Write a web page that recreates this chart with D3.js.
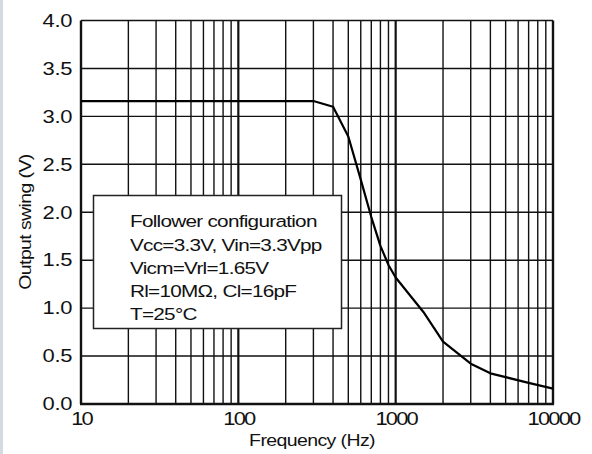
<!DOCTYPE html>
<html>
<head>
<meta charset="utf-8">
<script src="https://cdn.jsdelivr.net/npm/d3@7"></script>
<style>
  body { margin: 0; background: #fff; }
  svg { display: block; font-family: Arial, "Liberation Sans", sans-serif; }
</style>
</head>
<body>
<div id="chart"></div>
<script>
// Output swing vs frequency
const freq = [10, 300, 400, 500, 600, 700, 800, 900, 1000, 1500, 2000, 3000, 4000, 5000, 7000, 10000];
const swing = [3.16, 3.16, 3.10, 2.79, 2.34, 1.95, 1.65, 1.45, 1.32, 0.96, 0.65, 0.42, 0.32, 0.28, 0.22, 0.16];

const xTicks = [10, 100, 1000, 10000];
const xTickLabels = ["10", "100", "1000", "10000"];
const yTicks = [0, 0.5, 1.0, 1.5, 2.0, 2.5, 3.0, 3.5, 4.0];
const legendLines = [
  "Follower configuration",
  "Vcc=3.3V, Vin=3.3Vpp",
  "Vicm=Vrl=1.65V",
  "Rl=10M\u03A9, Cl=16pF",
  "T=25\u00B0C"
];

const width = 592, height = 454;
const margin = { top: 20.5, right: 39, bottom: 50, left: 81 };
const sx = 1.22; // the source font is drawn a bit wide

const svg = d3.select("#chart")
  .append("svg")
  .attr("width", width)
  .attr("height", height);

// thin grey strip at the left edge
svg.append("rect")
  .attr("x", 0).attr("y", 0)
  .attr("width", 3).attr("height", height)
  .attr("fill", "#d3dae2");

const x = d3.scaleLog().domain([10, 10000]).range([margin.left, width - margin.right]);
const y = d3.scaleLinear().domain([0, 4]).range([height - margin.bottom, margin.top]);

// minor + major vertical grid
const minor = [];
for (let dec = 10; dec < 10000; dec *= 10) {
  for (let k = 2; k <= 9; k++) minor.push(dec * k);
}
svg.append("g")
  .selectAll("line")
  .data(minor)
  .join("line")
  .attr("x1", d => x(d)).attr("x2", d => x(d))
  .attr("y1", y(0)).attr("y2", y(4))
  .attr("stroke", "#111")
  .attr("stroke-width", 1.4);

svg.append("g")
  .selectAll("line")
  .data([100, 1000])
  .join("line")
  .attr("x1", d => x(d)).attr("x2", d => x(d))
  .attr("y1", y(0)).attr("y2", y(4))
  .attr("stroke", "#111")
  .attr("stroke-width", 2.2);

// horizontal grid
svg.append("g")
  .selectAll("line")
  .data(yTicks)
  .join("line")
  .attr("x1", x(10)).attr("x2", x(10000))
  .attr("y1", d => y(d)).attr("y2", d => y(d))
  .attr("stroke", "#111")
  .attr("stroke-width", 1.4);

// frame
svg.append("line")
  .attr("x1", x(10)).attr("x2", x(10))
  .attr("y1", y(0)).attr("y2", y(4))
  .attr("stroke", "#111").attr("stroke-width", 2.4);
svg.append("line")
  .attr("x1", x(10000)).attr("x2", x(10000))
  .attr("y1", y(0)).attr("y2", y(4))
  .attr("stroke", "#111").attr("stroke-width", 2.4);
svg.append("line")
  .attr("x1", x(10) - 1).attr("x2", x(10000) + 1)
  .attr("y1", y(0)).attr("y2", y(0))
  .attr("stroke", "#111").attr("stroke-width", 2.4);

// legend box (sits over the grid)
const box = { x0: 93.5, y0: 195.5, x1: 341.5, y1: 328.5 };
svg.append("rect")
  .attr("x", box.x0).attr("y", box.y0)
  .attr("width", box.x1 - box.x0).attr("height", box.y1 - box.y0)
  .attr("fill", "#fff")
  .attr("stroke", "#222")
  .attr("stroke-width", 1.5);

svg.append("g")
  .attr("transform", `scale(${sx},1)`)
  .selectAll("text")
  .data(legendLines)
  .join("text")
  .attr("x", 130 / sx)
  .attr("y", (d, i) => 227.5 + i * 23.2)
  .style("font-size", "17px")
  .style("letter-spacing", "-0.6px")
  .attr("fill", "#111")
  .text(d => d);

// the curve
const line = d3.line()
  .x(d => x(d[0]))
  .y(d => y(d[1]));

svg.append("path")
  .datum(freq.map((f, i) => [f, swing[i]]))
  .attr("fill", "none")
  .attr("stroke", "#000")
  .attr("stroke-width", 2.2)
  .attr("stroke-linejoin", "round")
  .attr("d", line);

// axes (labels only, grid drawn above)
const xAxis = d3.axisBottom(x)
  .tickValues(xTicks)
  .tickFormat((d, i) => xTickLabels[i])
  .tickSize(0)
  .tickPadding(8);

const xg = svg.append("g")
  .attr("transform", `translate(0, ${y(0)})`)
  .call(xAxis);
xg.select(".domain").remove();
xg.selectAll(".tick text")
  .attr("transform", `scale(${sx},1)`)
  .style("font-size", "18px")
  .style("letter-spacing", "-1.5px")
  .style("font-family", "Arial, 'Liberation Sans', sans-serif")
  .attr("fill", "#111");

const yAxis = d3.axisLeft(y)
  .tickValues(yTicks)
  .tickFormat(d3.format(".1f"))
  .tickSize(0)
  .tickPadding(9);

const yg = svg.append("g")
  .attr("transform", `translate(${x(10)}, 0)`)
  .call(yAxis);
yg.select(".domain").remove();
yg.selectAll(".tick text")
  .attr("x", -9 / sx)
  .attr("transform", `scale(${sx},1)`)
  .style("font-size", "18px")
  .style("letter-spacing", "-0.3px")
  .style("font-family", "Arial, 'Liberation Sans', sans-serif")
  .attr("fill", "#111");

// axis titles
svg.append("text")
  .attr("transform", `scale(${sx},1)`)
  .attr("x", 312 / sx)
  .attr("y", 446)
  .style("text-anchor", "middle")
  .style("font-size", "16px")
  .style("letter-spacing", "-0.5px")
  .attr("fill", "#111")
  .text("Frequency (Hz)");

svg.append("text")
  .attr("transform", `rotate(-90) scale(${sx},1)`)
  .attr("x", -222 / sx)
  .attr("y", 31)
  .style("text-anchor", "middle")
  .style("font-size", "16px")
  .style("letter-spacing", "-0.5px")
  .attr("fill", "#111")
  .text("Output swing (V)");
</script>
</body>
</html>
